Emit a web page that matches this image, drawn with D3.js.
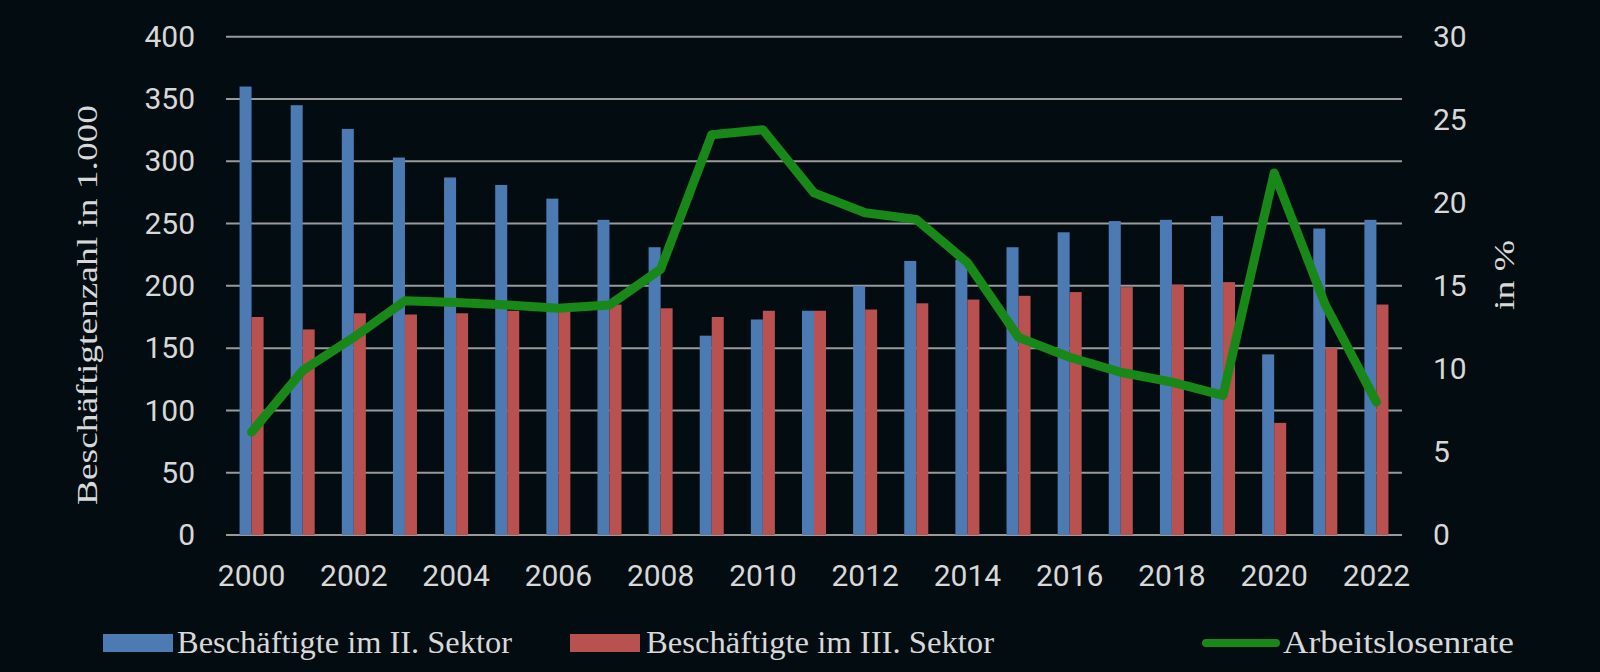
<!DOCTYPE html>
<html>
<head>
<meta charset="utf-8">
<script src="https://cdn.jsdelivr.net/npm/d3@7"></script>
<style>
  html, body { margin: 0; padding: 0; background: #030d11; }
  svg { display: block; }
</style>
</head>
<body>
<svg id="chart" width="1600" height="672"></svg>
<script>
// data
var years = [2000, 2001, 2002, 2003, 2004, 2005, 2006, 2007, 2008, 2009, 2010, 2011,
             2012, 2013, 2014, 2015, 2016, 2017, 2018, 2019, 2020, 2021, 2022];
var sektor2 = [360, 345, 326, 303, 287, 281, 270, 253, 231, 160, 173, 180,
               200, 220, 221, 231, 243, 252, 253, 256, 145, 246, 253];
var sektor3 = [175, 165, 178, 177, 178, 180, 180, 185, 182, 175, 180, 180,
               181, 186, 189, 192, 195, 199, 201, 203, 90, 150, 185];
var arbeitslosenrate = [6.2, 9.9, 11.9, 14.1, 14.0, 13.85, 13.65, 13.85, 16.0, 24.1, 24.4, 20.6,
                        19.4, 19.0, 16.4, 11.9, 10.7, 9.8, 9.2, 8.4, 21.8, 13.85, 8.0];
var leftTicks = [0, 50, 100, 150, 200, 250, 300, 350, 400];
var rightTicks = [0, 5, 10, 15, 20, 25, 30];
var seriesNames = ['Beschäftigte im II. Sektor', 'Beschäftigte im III. Sektor', 'Arbeitslosenrate'];

var colours = { blue: '#4c7ab2', red: '#b8514f', green: '#188818', grid: '#9a9a9a', text: '#d8d8d8' };

var svg = d3.select('#chart');
var plot = { left: 226, right: 1402, top: 36.7, bottom: 535 };

// scales
var x0 = d3.scaleBand().domain(years).range([plot.left, plot.right])
  .paddingInner(0.53).paddingOuter(0.265);
var x1 = d3.scaleBand().domain(['s2', 's3']).range([0, x0.bandwidth()]);
var y = d3.scaleLinear().domain([0, 400]).range([plot.bottom, plot.top]);
var yR = d3.scaleLinear().domain([0, 30]).range([plot.bottom, plot.top]);

// gridlines behind everything
svg.append('g').selectAll('line').data(leftTicks).join('line')
  .attr('x1', plot.left).attr('x2', plot.right)
  .attr('y1', function(d) { return y(d); }).attr('y2', function(d) { return y(d); })
  .attr('stroke', colours.grid).attr('stroke-width', 2);

// bars
var rows = years.map(function(yr, i) { return { year: yr, s2: sektor2[i], s3: sektor3[i] }; });
var groups = svg.append('g').selectAll('g').data(rows).join('g')
  .attr('transform', function(d) { return 'translate(' + x0(d.year) + ',0)'; });
groups.append('rect')
  .attr('x', x1('s2')).attr('width', x1.bandwidth())
  .attr('y', function(d) { return y(d.s2); })
  .attr('height', function(d) { return y(0) - y(d.s2); })
  .attr('fill', colours.blue);
groups.append('rect')
  .attr('x', x1('s3')).attr('width', x1.bandwidth())
  .attr('y', function(d) { return y(d.s3); })
  .attr('height', function(d) { return y(0) - y(d.s3); })
  .attr('fill', colours.red);

// unemployment line on the right scale
var line = d3.line()
  .x(function(d, i) { return x0(years[i]) + x0.bandwidth() / 2; })
  .y(function(d) { return yR(d); });
svg.append('path').datum(arbeitslosenrate)
  .attr('d', line)
  .attr('fill', 'none').attr('stroke', colours.green)
  .attr('stroke-width', 9).attr('stroke-linejoin', 'round').attr('stroke-linecap', 'round');

// axes (labels only)
function styleAxis(g) {
  g.select('.domain').remove();
  g.selectAll('text').attr('fill', colours.text)
    .style('font-family', 'Roboto, "Liberation Sans", sans-serif').style('font-size', '30px');
}
svg.append('g').attr('transform', 'translate(' + plot.left + ',0)')
  .call(d3.axisLeft(y).tickValues(leftTicks).tickSize(0).tickPadding(31))
  .call(styleAxis);
svg.append('g').attr('transform', 'translate(' + plot.right + ',0)')
  .call(d3.axisRight(yR).tickValues(rightTicks).tickSize(0).tickPadding(31))
  .call(styleAxis);
svg.append('g').attr('transform', 'translate(0,' + plot.bottom + ')')
  .call(d3.axisBottom(x0).tickValues(years.filter(function(d) { return d % 2 === 0; }))
    .tickSize(0).tickPadding(30))
  .call(styleAxis);

// axis titles
var serif = '"Liberation Serif", "DejaVu Serif", serif';
svg.append('text')
  .attr('transform', 'translate(97,305) rotate(-90)')
  .attr('text-anchor', 'middle')
  .attr('textLength', 400).attr('lengthAdjust', 'spacingAndGlyphs')
  .style('font-family', serif).style('font-size', '30px').attr('fill', colours.text)
  .text('Beschäftigtenzahl in 1.000');
svg.append('text')
  .attr('transform', 'translate(1514,275) rotate(-90)')
  .attr('text-anchor', 'middle')
  .attr('textLength', 70).attr('lengthAdjust', 'spacingAndGlyphs')
  .style('font-family', serif).style('font-size', '30px').attr('fill', colours.text)
  .text('in %');

// legend
var legendItems = [
  { name: seriesNames[0], kind: 'rect', colour: colours.blue, x: 103, textX: 177, textLen: 335 },
  { name: seriesNames[1], kind: 'rect', colour: colours.red, x: 570, textX: 646, textLen: 348 },
  { name: seriesNames[2], kind: 'line', colour: colours.green, x: 1202, textX: 1283, textLen: 231 }
];
var legend = svg.append('g');
legendItems.forEach(function(item) {
  if (item.kind === 'rect') {
    legend.append('rect').attr('x', item.x).attr('y', 634).attr('width', 70).attr('height', 18)
      .attr('fill', item.colour);
  } else {
    legend.append('line').attr('x1', item.x + 4).attr('x2', item.x + 74)
      .attr('y1', 643).attr('y2', 643)
      .attr('stroke', item.colour).attr('stroke-width', 8).attr('stroke-linecap', 'round');
  }
  legend.append('text').attr('x', item.textX).attr('y', 653)
    .attr('textLength', item.textLen).attr('lengthAdjust', 'spacingAndGlyphs')
    .style('font-family', serif).style('font-size', '31px').attr('fill', colours.text)
    .text(item.name);
});
</script>
</body>
</html>
